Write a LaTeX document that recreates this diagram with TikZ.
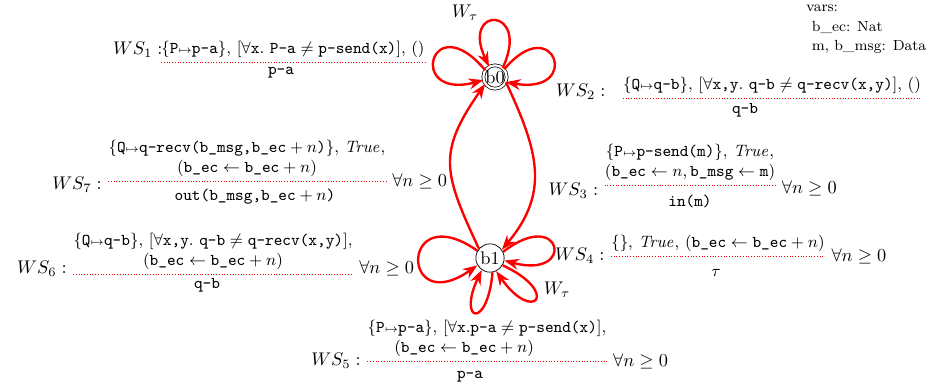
\documentclass[tikz,border=0pt]{standalone}
\usepackage{amsmath, amssymb}
\usepackage{tikz}
\usetikzlibrary{arrows.meta, positioning}

\tikzset{
  bstate/.style={draw, circle},
  trans/.style={red, line width=1.3pt, -{Stealth[length=8pt, width=6pt]}},
  wsnum/.style={anchor=south, align=center, font=\small, inner xsep=0pt, inner ysep=2pt},
  wsden/.style={font=\small},
  wsrule/.style={red, densely dotted, line width=0.5pt},
}
\newcommand{\mto}{{\scriptstyle\mapsto}}

\begin{document}
\begin{tikzpicture}[x=0.546pt, y=0.546pt]
  \useasboundingbox (0,0) rectangle (929,390);

  % states
  \node[bstate, double, double distance=1.2pt, inner sep=0pt, minimum size=12pt] (b0) at (495,313) {b0};
  \node[bstate, inner sep=1pt, minimum size=14pt] (b1) at (490,132) {b1};

  % variables
  \node[anchor=north west, align=left, font=\footnotesize, inner sep=0pt] (vars) at (806,385)
    {vars:\\[1pt] \hspace*{3pt}b\_ec: Nat\\[1pt] \hspace*{3pt}m, b\_msg: Data};

  % loops on b0
  \draw[trans] (b0.50) .. controls +(65:68) and +(115:68) .. (b0.120);
  \draw[trans] (b0.145) .. controls +(130:85) and +(195:80) .. (b0.195);
  \draw[trans] (b0.40) .. controls +(50:78) and +(-10:78) .. (b0.-25);
  \node (wtau0) at (465,377) {$W_\tau$};

  % transitions between b0 and b1
  \draw[trans] (b0.-25) to[out=-65, in=50, looseness=1.15] (b1.35);
  \draw[trans] (b1.140) to[out=115, in=235, looseness=1.3] (b0.215);

  % loops on b1
  \draw[trans] (b1.25) .. controls +(38:75) and +(-15:75) .. (b1.-10);
  \draw[trans] (b1.-30) .. controls +(-25:65) and +(-55:65) .. (b1.-65);
  \draw[trans] (b1.-80) .. controls +(-95:58) and +(-115:58) .. (b1.-125);
  \draw[trans] (b1.150) .. controls +(145:95) and +(215:95) .. (b1.210);
  \node (wtau1) at (557,100) {$W_\tau$};

  % WS_1
  \node[wsnum] (ws1t) at (293,328)
    {$\{\texttt{P}\mto\texttt{p-a}\}$, $[\forall\texttt{x}.\ \texttt{P-a}\neq\texttt{p-send(x)}]$, $()$};
  \draw[wsrule] (ws1t.south west) -- (ws1t.south east);
  \node[wsden] (ws1b) at (281,317) {$\texttt{p-a}$};
  \node[anchor=east] (ws1) at (169,340) {$WS_1:$};

  % WS_2
  \node[wsnum] (ws2t) at (772,292)
    {$\{\texttt{Q}\mto\texttt{q-b}\}$, $[\forall\texttt{x,y}.\ \texttt{q-b}\neq\texttt{q-recv(x,y)}]$, $()$};
  \draw[wsrule] (ws2t.south west) -- (ws2t.south east);
  \node[wsden] (ws2b) at (745,280) {$\texttt{q-b}$};
  \node[anchor=east] (ws2) at (612,298) {$WS_2:$};

  % WS_3
  \node[wsnum] (ws3t) at (690,205)
    {$\{\texttt{P}\mto\texttt{p-send(m)}\}$, $\mathit{True}$,\\
     $(\texttt{b\_ec}\leftarrow n,\texttt{b\_msg}\leftarrow\texttt{m})$};
  \draw[wsrule] (ws3t.south west) -- (ws3t.south east);
  \node[wsden] (ws3b) at (690,189) {$\texttt{in(m)}$};
  \node[left=0pt of ws3t.south west, yshift=-3pt] (ws3) {$WS_3:$};
  \node[right=0pt of ws3t.south east, yshift=-2pt] (ws3n) {$\forall n\geq 0$};

  % WS_4
  \node[wsnum] (ws4t) at (718,134)
    {$\{\}$, $\mathit{True}$, $(\texttt{b\_ec}\leftarrow\texttt{b\_ec}+n)$};
  \draw[wsrule] (ws4t.south west) -- (ws4t.south east);
  \node[wsden] (ws4b) at (716,117) {$\tau$};
  \node[left=0pt of ws4t.south west] (ws4) {$WS_4:$};
  \node[right=0pt of ws4t.south east] (ws4n) {$\forall n\geq 0$};

  % WS_5
  \node[wsnum] (ws5t) at (487,29)
    {$\{\texttt{P}\mto\texttt{p-a}\}$, $[\forall\texttt{x}.\texttt{p-a}\neq\texttt{p-send(x)}]$,\\
     $(\texttt{b\_ec}\leftarrow\texttt{b\_ec}+n)$\hspace*{25pt}};
  \draw[wsrule] (ws5t.south west) -- (ws5t.south east);
  \node[wsden] (ws5b) at (470,13) {$\texttt{p-a}$};
  \node[left=0pt of ws5t.south west] (ws5) {$WS_5:$};
  \node[right=0pt of ws5t.south east] (ws5n) {$\forall n\geq 0$};

  % WS_6
  \node[wsnum] (ws6t) at (213,116)
    {$\{\texttt{Q}\mto\texttt{q-b}\}$, $[\forall\texttt{x,y}.\ \texttt{q-b}\neq\texttt{q-recv(x,y)}]$,\\
     $(\texttt{b\_ec}\leftarrow\texttt{b\_ec}+n)$};
  \draw[wsrule] (ws6t.south west) -- (ws6t.south east);
  \node[wsden] (ws6b) at (207,105) {$\texttt{q-b}$};
  \node[left=0pt of ws6t.south west, yshift=3pt] (ws6) {$WS_6:$};
  \node[right=0pt of ws6t.south east, yshift=3pt] (ws6n) {$\forall n\geq 0$};

  % WS_7
  \node[wsnum] (ws7t) at (247,209)
    {$\{\texttt{Q}\mto\texttt{q-recv(b\_msg,b\_ec}+n\texttt{)}\}$, $\mathit{True}$,\\
     $(\texttt{b\_ec}\leftarrow\texttt{b\_ec}+n)$};
  \draw[wsrule] (ws7t.south west) -- (ws7t.south east);
  \node[wsden] (ws7b) at (255,193) {$\texttt{out(b\_msg,b\_ec}+n\texttt{)}$};
  \node[left=0pt of ws7t.south west, yshift=-2pt] (ws7) {$WS_7:$};
  \node[right=0pt of ws7t.south east] (ws7n) {$\forall n\geq 0$};
\end{tikzpicture}
\end{document}
